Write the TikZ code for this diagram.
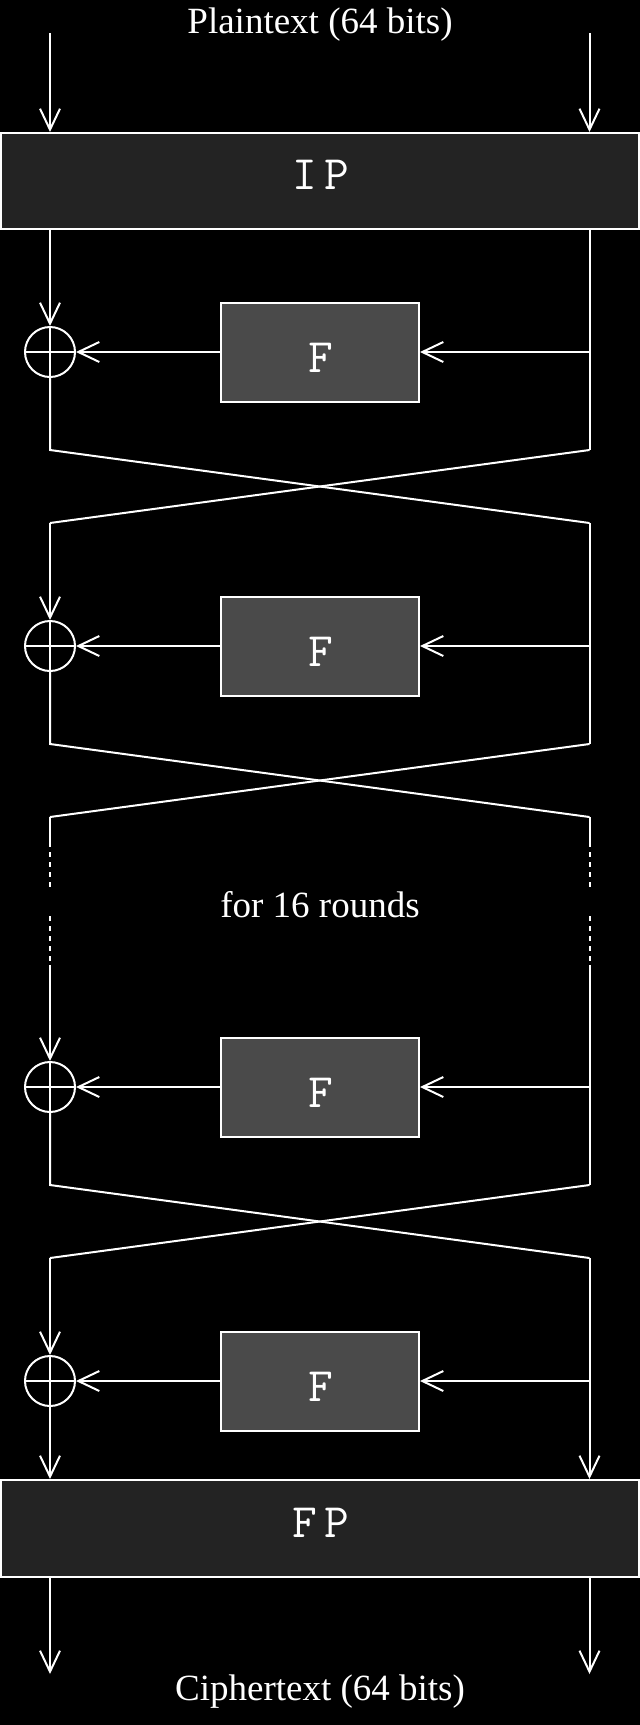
\documentclass[tikz,border=0pt]{standalone}
\usepackage{fontspec}
\newfontfamily\lserif{Liberation Serif}
\usetikzlibrary{arrows.meta}
\definecolor{ipgray}{HTML}{232323}
\definecolor{fgray}{HTML}{4A4A4A}
\begin{document}
\begin{tikzpicture}[x=1pt,y=-1pt,
  wire/.style={draw=white, line width=2pt},
  arr/.style={wire, -{Straight Barb[length=21pt,width=20pt]}},
  dashwire/.style={wire, dash pattern=on 5pt off 5pt},
  permbox/.style={draw=white, line width=2pt, fill=ipgray, minimum width=638pt, inner sep=0pt},
  fbox/.style={draw=white, line width=2pt, fill=fgray, minimum width=198pt, minimum height=99pt, inner sep=0pt},
  xor/.style={circle, draw=white, line width=2pt, minimum size=50pt, inner sep=0pt},
  lbl/.style={text=white, font=\lserif\fontsize{37}{40}\selectfont, anchor=base, inner sep=0pt},
  mono/.style={text=white, font=\ttfamily\fontsize{48}{50}\selectfont, anchor=base, inner sep=0pt}]
\fill[black] (0,0) rectangle (640,1725);
\useasboundingbox (0,0) rectangle (640,1725);

% texts
\node[lbl] (pt) at (320,33) {Plaintext (64 bits)};
\node[lbl] (ct) at (320,1700) {Ciphertext (64 bits)};
\node[lbl] (rounds) at (320,917) {for 16 rounds};

% permutation boxes
\node[permbox, minimum height=96pt] (IP) at (320,181) {};
\node[mono] (IPt) at (321,189) {I\kern7pt P};
\node[permbox, minimum height=97pt] (FP) at (320,1528.5) {};
\node[mono] (FPt) at (321,1537) {F\kern7pt P};

% input / output wires
\coordinate (InL) at (50,33);
\coordinate (InR) at (589.5,33);
\coordinate (OutL) at (50,1674);
\coordinate (OutR) at (589.5,1674);
\draw[arr] (InL) -- (InL |- IP.north);
\draw[arr] (InR) -- (InR |- IP.north);
\draw[arr] (OutL |- FP.south) -- (OutL);
\draw[arr] (OutR |- FP.south) -- (OutR);

% rounds
\foreach \i/\c in {1/352,2/646,3/1087,4/1381}{
  \node[fbox] (F\i) at (320,\c) {};
  \node[mono] (Ft\i) at (321,\c+20) {F};
  \node[xor] (X\i) at (50,\c) {};
  \draw[wire] (X\i.north) -- (X\i.south) (X\i.west) -- (X\i.east);
  \coordinate (R\i) at (589.5,\c);
  \draw[arr] (R\i) -- (F\i.east);
  \draw[arr] (F\i.west) -- (X\i.east);
}

% crossings
\foreach \i/\t in {1/450,2/744,3/1185}{
  \coordinate (LT\i) at (50,\t);
  \coordinate (RT\i) at (589.5,\t);
  \coordinate (LB\i) at (50,\t+73);
  \coordinate (RB\i) at (589.5,\t+73);
  \draw[wire] (X\i.south) -- (LT\i) -- (RB\i);
  \draw[wire] (RT\i) -- (LB\i);
}

% round 1 inputs
\draw[arr] (IP.south -| X1) -- (X1.north);
\draw[wire] (IP.south -| R1) -- (RT1);
% round 2 inputs
\draw[arr] (LB1) -- (X2.north);
\draw[wire] (RB1) -- (RT2);

% dotted continuation
\coordinate (LS1) at (50,847);
\coordinate (RS1) at (589.5,847);
\coordinate (LD1a) at (50,852);
\coordinate (LD1b) at (50,888);
\coordinate (RD1a) at (589.5,852);
\coordinate (RD1b) at (589.5,888);
\coordinate (LD2a) at (50,916);
\coordinate (LD2b) at (50,961);
\coordinate (RD2a) at (589.5,916);
\coordinate (RD2b) at (589.5,961);
\coordinate (LS2) at (50,965);
\coordinate (RS2) at (589.5,965);
\draw[wire] (LB2) -- (LS1);
\draw[wire] (RB2) -- (RS1);
\draw[dashwire] (LD1a) -- (LD1b);
\draw[dashwire] (RD1a) -- (RD1b);
\draw[dashwire] (LD2a) -- (LD2b);
\draw[dashwire] (RD2a) -- (RD2b);

% round 3 inputs
\draw[arr] (LS2) -- (X3.north);
\draw[wire] (RS2) -- (RT3);
% round 4 inputs
\draw[arr] (LB3) -- (X4.north);
\draw[arr] (RB3) -- (RB3 |- FP.north);
\draw[arr] (X4.south) -- (X4.south |- FP.north);
\end{tikzpicture}
\end{document}
